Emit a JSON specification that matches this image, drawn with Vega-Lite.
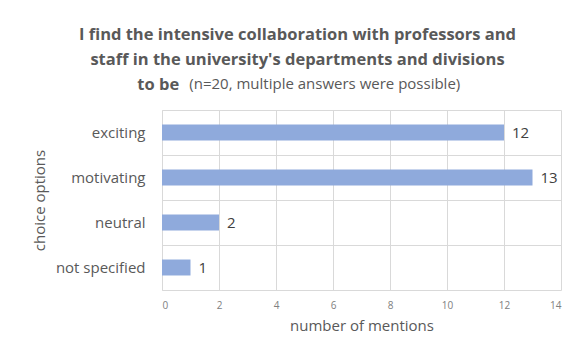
{
  "$schema": "https://vega.github.io/schema/vega-lite/v6.json",
  "width": 399,
  "height": 180,
  "autosize": {"type": "none"},
  "padding": {"left": 162, "top": 110, "right": 12, "bottom": 55},
  "background": "white",
  "title": {
    "text": ["I find the intensive collaboration with professors and", "staff in the university's departments and divisions", "to be\u00a0\u00a0\u00a0\u00a0\u00a0\u00a0\u00a0\u00a0\u00a0\u00a0\u00a0\u00a0\u00a0\u00a0\u00a0\u00a0\u00a0\u00a0\u00a0\u00a0\u00a0\u00a0\u00a0\u00a0\u00a0\u00a0\u00a0\u00a0\u00a0\u00a0\u00a0\u00a0\u00a0\u00a0\u00a0\u00a0\u00a0\u00a0\u00a0\u00a0\u00a0\u00a0\u00a0\u00a0\u00a0\u00a0\u00a0\u00a0\u00a0\u00a0\u00a0\u00a0\u00a0\u00a0\u00a0\u00a0\u00a0\u00a0\u00a0\u00a0\u00a0\u00a0\u00a0\u00a0\u00a0\u200b"],
    "subtitle": "\u200b\u00a0\u00a0\u00a0\u00a0\u00a0\u00a0\u00a0\u00a0\u00a0\u00a0\u00a0\u00a0\u00a0\u00a0(n=20, multiple answers were possible)",
    "anchor": "middle",
    "dx": -64,
    "offset": 17,
    "font": "Open Sans",
    "fontSize": 16.5,
    "fontWeight": "bold",
    "color": "#595959",
    "lineHeight": 25,
    "subtitleFont": "Open Sans",
    "subtitleFontSize": 15,
    "subtitleColor": "#595959",
    "subtitleFontWeight": "normal",
    "subtitlePadding": -16
  },
  "data": {
    "values": [
      {"option": "exciting", "mentions": 12},
      {"option": "motivating", "mentions": 13},
      {"option": "neutral", "mentions": 2},
      {"option": "not specified", "mentions": 1}
    ]
  },
  "encoding": {
    "y": {
      "field": "option",
      "type": "nominal",
      "sort": ["exciting", "motivating", "neutral", "not specified"],
      "scale": {"paddingInner": 0, "paddingOuter": 0},
      "axis": {
        "title": "choice options",
        "titleFont": "Open Sans",
        "titleFontSize": 15,
        "titleFontWeight": "normal",
        "titleColor": "#595959",
        "titlePadding": 8,
        "labelFont": "Open Sans",
        "labelFontSize": 15,
        "labelColor": "#595959",
        "labelPadding": 17,
        "ticks": false,
        "domainColor": "#d9d9d9",
        "grid": true,
        "gridColor": "#d9d9d9",
        "bandPosition": 0
      }
    },
    "x": {
      "field": "mentions",
      "type": "quantitative",
      "scale": {"domain": [0, 14], "nice": false},
      "axis": {
        "values": [0, 2, 4, 6, 8, 10, 12, 14],
        "title": "number of mentions",
        "titleFont": "Open Sans",
        "titleFontSize": 15,
        "titleFontWeight": "normal",
        "titleColor": "#595959",
        "titlePadding": 8,
        "labelFont": "Open Sans",
        "labelFontSize": 10,
        "labelColor": "#808080",
        "labelPadding": 10,
        "ticks": false,
        "domainColor": "#d9d9d9",
        "grid": true,
        "gridColor": "#d9d9d9"
      }
    }
  },
  "layer": [
    {
      "mark": {"type": "bar", "color": "#8faadc", "height": {"band": 0.355}}
    },
    {
      "mark": {"type": "text", "align": "left", "baseline": "middle", "dx": 8, "font": "Open Sans", "fontSize": 15, "color": "#404040"},
      "encoding": {"text": {"field": "mentions", "type": "quantitative"}}
    }
  ],
  "config": {"view": {"stroke": null}}
}
